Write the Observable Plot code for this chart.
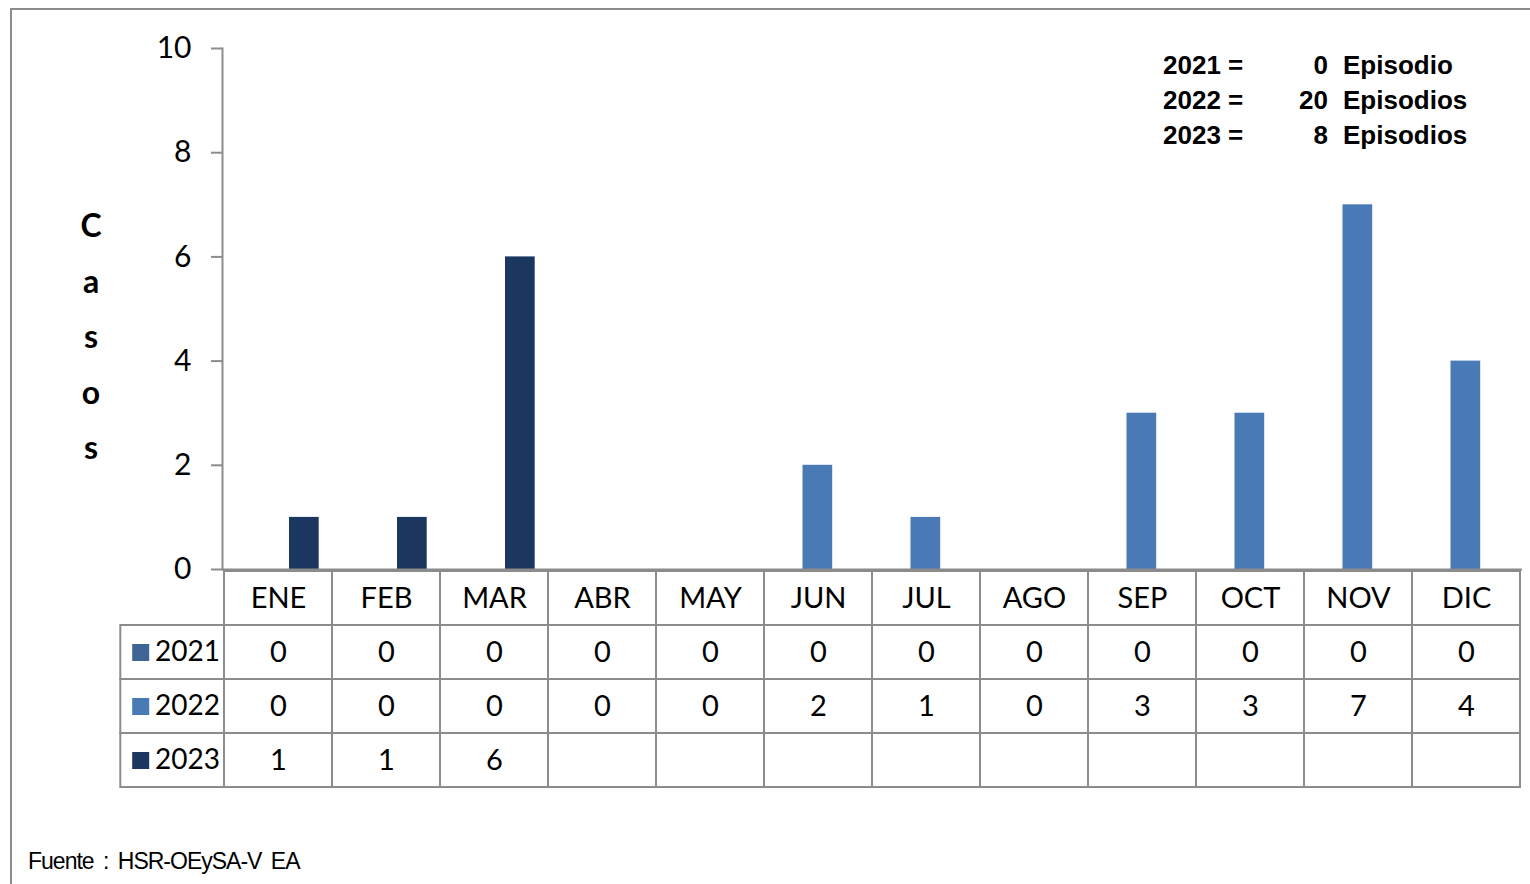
<!DOCTYPE html>
<html>
<head>
<meta charset="utf-8">
<script src="https://cdn.jsdelivr.net/npm/d3@7"></script>
<script src="https://cdn.jsdelivr.net/npm/@observablehq/plot@0.6"></script>
<style>
  html, body { margin: 0; padding: 0; background: #fff; }
  #page { position: relative; width: 1530px; height: 884px; overflow: hidden; font-family: Lato, "Open Sans", sans-serif; }
  #frame { position: absolute; left: 10px; top: 8px; width: 1600px; height: 900px; border-left: 2px solid #8c8c8c; border-top: 2px solid #8c8c8c; }
  #chart { position: absolute; left: 0; top: 0; }
  #table { position: absolute; left: 0; top: 568px; }
  #ylabel { position: absolute; left: 71px; top: 197px; width: 40px; text-align: center; font-weight: bold; font-size: 32px; line-height: 55.5px; color: #000; }
  #summary { position: absolute; left: 1163px; top: 48px; font-family: "Liberation Sans", Arial, sans-serif; font-weight: bold; font-size: 26px; color: #000; }
  #summary .row { position: relative; height: 35px; line-height: 35px; white-space: nowrap; }
  #summary .yr { position: absolute; left: 0; }
  #summary .n { position: absolute; width: 60px; text-align: right; }
  #summary .lab { position: absolute; left: 180px; }
  #caption { position: absolute; left: 28px; top: 848px; font-family: "Liberation Sans", Arial, sans-serif; font-size: 23px; letter-spacing: -1px; word-spacing: 4px; color: #000; white-space: pre; }
  svg text { font-family: Lato, "Open Sans", sans-serif; }
</style>
</head>
<body>
<div id="page">
  <div id="frame"></div>
  <div id="chart"></div>
  <div id="table"></div>
  <div id="ylabel"></div>
  <div id="summary"></div>
  <div id="caption"></div>
</div>
<script>
const months = ["ENE","FEB","MAR","ABR","MAY","JUN","JUL","AGO","SEP","OCT","NOV","DIC"];
const years = ["2021","2022","2023"];
const casos2021 = [0,0,0,0,0,0,0,0,0,0,0,0];
const casos2022 = [0,0,0,0,0,2,1,0,3,3,7,4];
const casos2023 = [1,1,6,null,null,null,null,null,null,null,null,null];
const yearColors = ["#3E6596","#4A7AB5","#1B375F"];
const yTicks = [0,2,4,6,8,10];
const yLabel = "Casos";
const summaryCounts = [0,20,8];
const summaryUnits = ["Episodio","Episodios","Episodios"];
const caption = "Fuente : HSR-OEySA-V EA";

const series = [casos2021, casos2022, casos2023];
const insets = [[11, 67.3], [38.5, 39.8], [65, 13.3]];
const gridColor = "#8c8c8c";

// Bar chart
const barMarks = years.map((yr, i) =>
  Plot.barY(
    months.map((m, j) => ({month: m, value: series[i][j]})).filter(d => d.value != null && d.value > 0),
    {x: "month", y: "value", fill: yearColors[i], insetLeft: insets[i][0], insetRight: insets[i][1]}
  )
);

const chart = Plot.plot({
  width: 1530,
  height: 600,
  marginLeft: 222,
  marginRight: 8,
  marginTop: 48,
  marginBottom: 31,
  x: {domain: months, padding: 0, axis: null},
  y: {domain: [0, 10], axis: null},
  style: {background: "transparent", overflow: "visible"},
  marks: [
    ...barMarks,
    Plot.axisY({ticks: yTicks, tickSize: 11, tickPadding: 20, fontSize: 30, stroke: gridColor, strokeWidth: 2, fill: "#000", label: null}),
    Plot.frame({anchor: "left", stroke: gridColor, strokeWidth: 2}),
    Plot.ruleY([0], {stroke: gridColor, strokeWidth: 2})
  ]
});
document.getElementById("chart").appendChild(chart);

// Data table
const rowKeys = ["mes", ...years];
const headerCells = months.map(m => ({x: m, y: "mes", text: m}));
const labelCells = years.map(yr => ({x: "", y: yr}));
const valueCells = [];
years.forEach((yr, i) => {
  months.forEach((m, j) => valueCells.push({x: m, y: yr, text: series[i][j] == null ? "" : String(series[i][j])}));
});
const table = Plot.plot({
  width: 1530,
  height: 221,
  marginLeft: 113.67,
  marginRight: 8,
  marginTop: 1,
  marginBottom: 1,
  x: {domain: ["", ...months], padding: 0, axis: null},
  y: {domain: rowKeys, padding: 0, axis: null},
  color: {domain: years, range: yearColors},
  style: {background: "transparent", overflow: "visible"},
  marks: [
    Plot.cell(labelCells, {x: "x", y: "y", fill: "none", stroke: gridColor, strokeWidth: 2, insetLeft: 4.3}),
    Plot.cell([...headerCells, ...valueCells], {x: "x", y: "y", fill: "none", stroke: gridColor, strokeWidth: 2}),
    Plot.text([...headerCells, ...valueCells], {x: "x", y: "y", text: "text", fontSize: 29, fill: "#000"}),
    Plot.dot(years, {x: () => "", y: d => d, fill: d => d, symbol: "square", r: 9.6, dx: -29.8}),
    Plot.text(years, {x: () => "", y: d => d, text: d => d, textAnchor: "start", dx: -15.5, fontSize: 28, fill: "#000"})
  ]
});
document.getElementById("table").appendChild(table);

// Stacked axis label
document.getElementById("ylabel").innerHTML = yLabel.split("").map(c => `<div>${c}</div>`).join("");

// Summary
document.getElementById("summary").innerHTML = years.map((yr, i) =>
  `<div class="row"><span class="yr">${yr} =</span><span class="n" style="left:105px">${summaryCounts[i]}</span><span class="lab">${summaryUnits[i]}</span></div>`
).join("");

document.getElementById("caption").textContent = caption;
</script>
</body>
</html>
